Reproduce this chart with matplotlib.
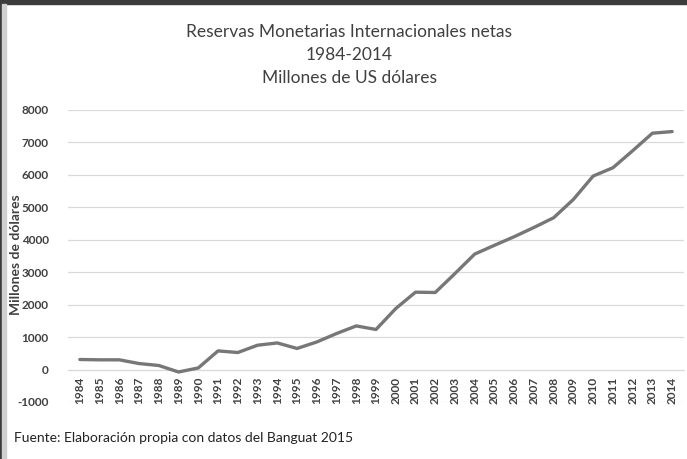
import matplotlib
matplotlib.use("Agg")
import matplotlib.pyplot as plt
from matplotlib.patches import Rectangle

years = [str(y) for y in range(1984, 2015)]
reservas = [310, 300, 300, 185, 125, -75, 50, 575, 525, 750, 820, 650, 850, 1110,
            1345, 1235, 1880, 2385, 2375, 2960, 3560, 3830, 4095, 4380, 4680, 5245,
            5965, 6220, 6745, 7285, 7335]
y_ticks = list(range(-1000, 9000, 1000))

plt.rcParams["font.family"] = ["Lato", "DejaVu Sans"]

W, H = 687, 459
fig = plt.figure(figsize=(W / 100, H / 100), dpi=100)
fig.patch.set_facecolor("white")

ax = fig.add_axes([68 / W, 1 - 402 / H, (684 - 68) / W, (402 - 110) / H])
x = list(range(len(years)))
ax.plot(x, reservas, color="#777777", lw=2.4, solid_capstyle="round", zorder=3)

# category axis crosses at 0 (set before tick labels, set_position resets ticks)
ax.spines["bottom"].set_position(("data", 0))
ax.spines["bottom"].set_color("#d9d9d9")
for s in ["top", "right", "left"]:
    ax.spines[s].set_visible(False)

ax.set_xlim(-0.6, len(years) - 0.4)
ax.set_ylim(-1000, 8000)
ax.set_yticks(y_ticks)
ax.set_yticklabels([str(v) for v in y_ticks], fontsize=8.5, color="#404040",
                   fontweight="bold")
ax.yaxis.grid(True, color="#d9d9d9", lw=0.9)
ax.set_axisbelow(True)

ax.set_xticks(x)
ax.set_xticklabels(years, rotation=90, fontsize=8.5, color="#404040",
                   fontweight="bold")
ax.tick_params(axis="both", length=0)
ax.tick_params(axis="x", pad=5)
ax.tick_params(axis="y", pad=14)

fig.text(16 / W, 1 - 255 / H, "Millones de dólares", rotation=90, ha="center",
         va="center", fontsize=10, color="#404040", fontweight="bold")

fig.text(349 / W, 1 - 32 / H, "Reservas Monetarias Internacionales netas",
         ha="center", va="center", fontsize=12.5, color="#404040")
fig.text(349 / W, 1 - 55 / H, "1984-2014", ha="center", va="center",
         fontsize=12.5, color="#404040")
fig.text(349 / W, 1 - 78 / H, "Millones de US dólares", ha="center",
         va="center", fontsize=12.5, color="#404040")

fig.text(14 / W, 1 - 438 / H, "Fuente: Elaboración propia con datos del Banguat 2015",
         ha="left", va="center", fontsize=10, color="#222222")

# dark frame at top and left edge, like the screenshot
fig.patches.append(Rectangle((0, 1 - 4 / H), 1, 4 / H, transform=fig.transFigure,
                             color="#3c3c3c", zorder=10))
fig.patches.append(Rectangle((0, 0), 2 / W, 1, transform=fig.transFigure,
                             color="#3c3c3c", zorder=10))
fig.patches.append(Rectangle((2 / W, 0), 4 / W, 1 - 4 / H, transform=fig.transFigure,
                             color="#d0d0d0", zorder=10))

fig.savefig("out.png", dpi=100)
